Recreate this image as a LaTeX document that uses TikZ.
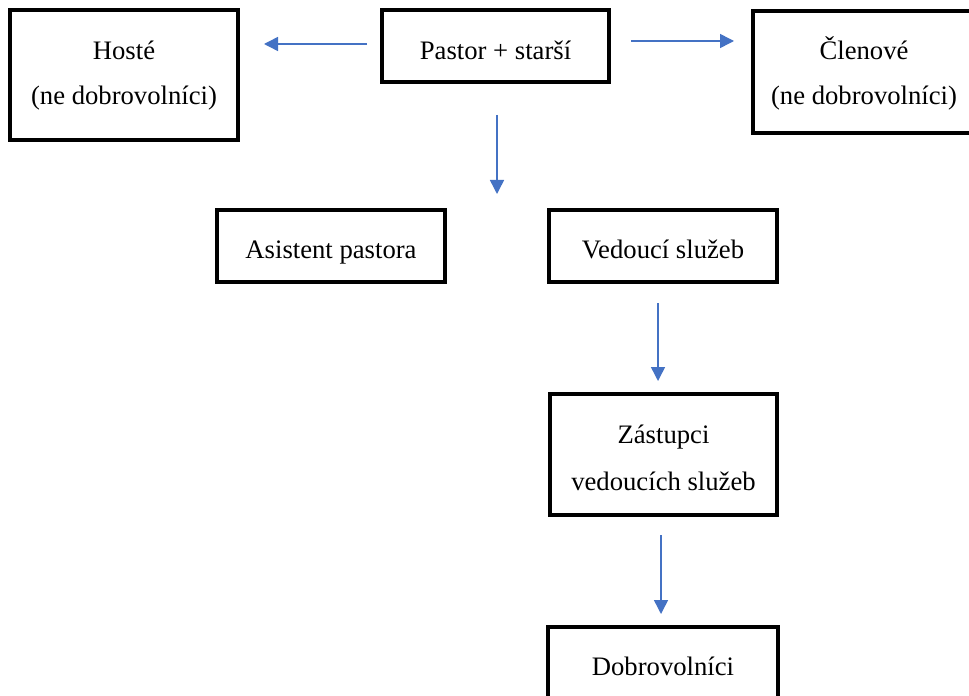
\documentclass[tikz,border=0pt]{standalone}
\usepackage{fontspec}
\setmainfont{Liberation Serif}
\usetikzlibrary{arrows.meta}
\definecolor{arrblue}{HTML}{4472C4}
\begin{document}
\begin{tikzpicture}[x=0.75pt,y=-0.75pt,
  boxst/.style={draw=black,line width=2.4pt,rectangle,inner sep=0pt},
  txt/.style={font=\fontsize{20}{24}\selectfont,anchor=base,inner sep=0pt},
  arr/.style={draw=arrblue,line width=1.1pt,-{Triangle[length=10.5pt,width=10.5pt]}}]
\useasboundingbox (0,0) rectangle (969,695);
\fill[white] (0,0) rectangle (969,695);
% boxes
\draw[boxst] (10,10) rectangle (238,140) node[pos=0.5] (hoste) {};
\draw[boxst] (382,10) rectangle (609,82) node[pos=0.5] (pastor) {};
\draw[boxst] (753,11) rectangle (995,133) node[pos=0.5] (clenove) {};
\draw[boxst] (217,210) rectangle (445,282) node[pos=0.5] (asistent) {};
\draw[boxst] (549,210) rectangle (777,282) node[pos=0.5] (vedouci) {};
\draw[boxst] (550,394) rectangle (777,515) node[pos=0.5] (zastupci) {};
\draw[boxst] (548,627) rectangle (778,705) node[pos=0.5] (dobro) {};
% texts
\node[txt] (t1) at (124,60) {Hosté};
\node[txt] (t2) at (124,105) {(ne dobrovolníci)};
\node[txt] (t3) at (495.5,60) {Pastor + starší};
\node[txt] (t4) at (864,60) {Členové};
\node[txt] (t5) at (864,105) {(ne dobrovolníci)};
\node[txt] (t6) at (331,258) {Asistent pastora};
\node[txt] (t7) at (663,258) {Vedoucí služeb};
\node[txt] (t8) at (663.5,443) {Zástupci};
\node[txt] (t9) at (663.5,490) {vedoucích služeb};
\node[txt] (t10) at (663,675) {Dobrovolníci};
% arrow ends
\coordinate (a1s) at (367,44);
\coordinate (a1e) at (264,44);
\coordinate (a2s) at (631,41);
\coordinate (a2e) at (734,41);
\coordinate (a3s) at (497,115);
\coordinate (a3e) at (497,194);
\coordinate (a4s) at (658,303);
\coordinate (a4e) at (658,381);
\coordinate (a5s) at (661,535);
\coordinate (a5e) at (661,614);
\draw[arr] (a1s) -- (a1e);
\draw[arr] (a2s) -- (a2e);
\draw[arr] (a3s) -- (a3e);
\draw[arr] (a4s) -- (a4e);
\draw[arr] (a5s) -- (a5e);
\end{tikzpicture}
\end{document}
